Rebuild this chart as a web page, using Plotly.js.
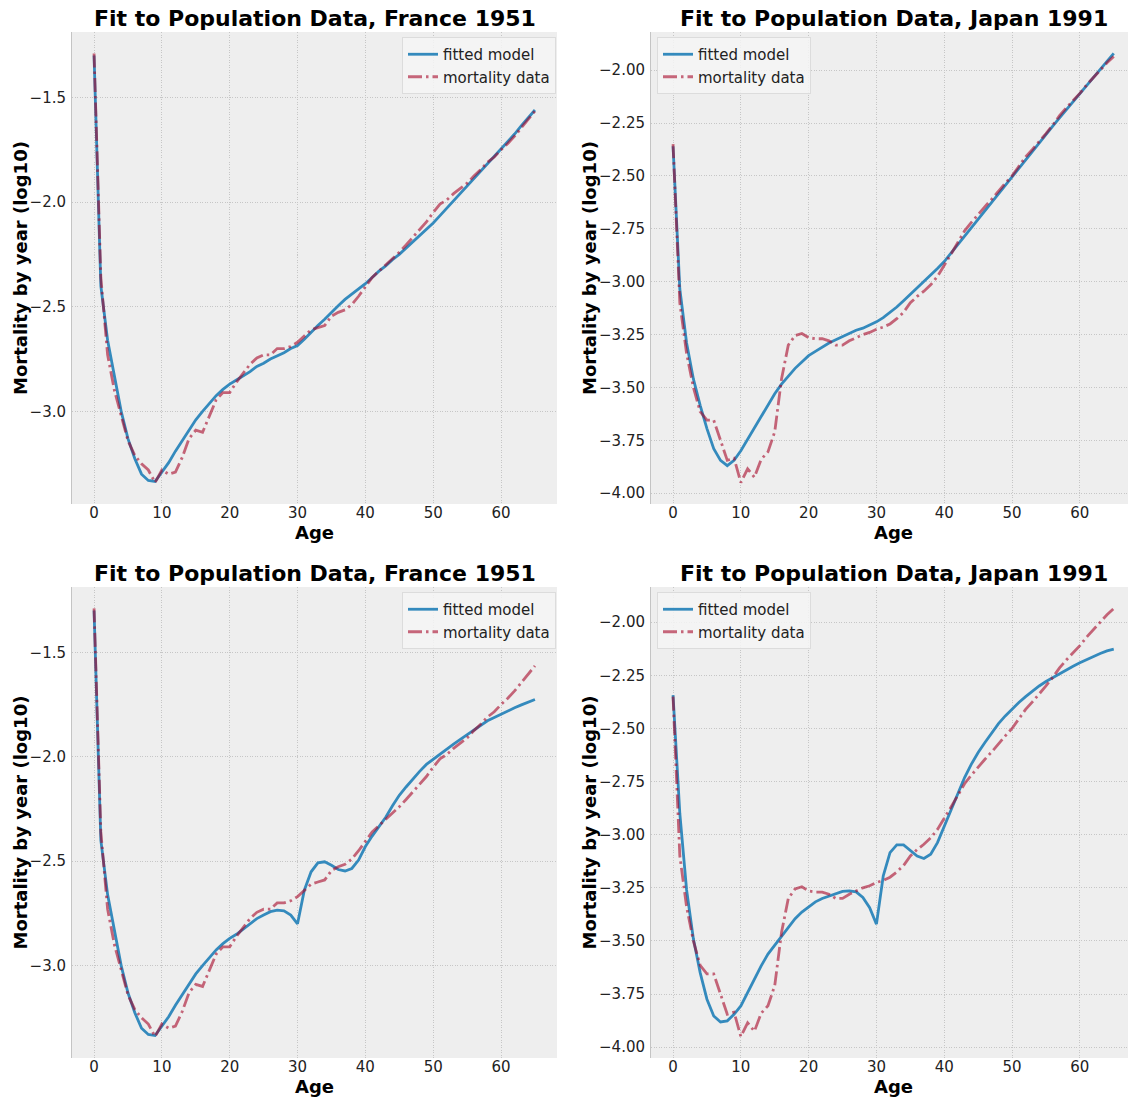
<!DOCTYPE html>
<html>
<head>
<meta charset="utf-8">
<script src="https://cdn.plot.ly/plotly-3.0.1.min.js"></script>
<style>html,body{margin:0;padding:0;background:#fff;}#chart{width:1128px;height:1101px;}</style>
</head>
<body>
<div id="chart"></div>
<script>
// ---- data ----
const ages = Array.from({length: 66}, (_, i) => i);

const titles = ["Fit to Population Data, France 1951", "Fit to Population Data, Japan 1991",
                "Fit to Population Data, France 1951", "Fit to Population Data, Japan 1991"];
const seriesNames = ["fitted model", "mortality data"];
const xLabel = "Age";
const yLabel = "Mortality by year (log10)";

const franceData = [-1.29,-2.36,-2.73,-2.90,-3.02,-3.14,-3.21,-3.25,-3.28,-3.34,
  -3.28,-3.30,-3.29,-3.22,-3.13,-3.09,-3.10,-3.02,-2.945,-2.91,
  -2.91,-2.86,-2.815,-2.775,-2.745,-2.73,-2.73,-2.70,-2.70,-2.69,
  -2.67,-2.64,-2.61,-2.60,-2.59,-2.545,-2.527,-2.515,-2.49,-2.45,
  -2.405,-2.36,-2.33,-2.30,-2.27,-2.24,-2.205,-2.17,-2.135,-2.095,
  -2.05,-2.01,-1.99,-1.96,-1.935,-1.91,-1.875,-1.845,-1.81,-1.785,
  -1.75,-1.72,-1.685,-1.645,-1.605,-1.565];

const franceFitA = [-1.30,-2.40,-2.66,-2.83,-3.00,-3.13,-3.225,-3.30,-3.33,-3.335,
  -3.29,-3.245,-3.19,-3.14,-3.09,-3.04,-3.00,-2.96,-2.925,-2.895,
  -2.87,-2.85,-2.83,-2.81,-2.785,-2.77,-2.75,-2.735,-2.72,-2.70,
  -2.685,-2.655,-2.62,-2.59,-2.56,-2.525,-2.495,-2.465,-2.44,-2.415,
  -2.39,-2.36,-2.33,-2.305,-2.275,-2.25,-2.22,-2.19,-2.16,-2.13,
  -2.10,-2.065,-2.03,-1.995,-1.96,-1.925,-1.89,-1.855,-1.82,-1.785,
  -1.75,-1.71,-1.675,-1.635,-1.60,-1.56];

const franceFitB = [-1.30,-2.40,-2.66,-2.83,-3.00,-3.13,-3.225,-3.30,-3.33,-3.335,
  -3.29,-3.245,-3.19,-3.14,-3.09,-3.04,-3.00,-2.96,-2.925,-2.895,
  -2.87,-2.85,-2.825,-2.80,-2.775,-2.758,-2.742,-2.735,-2.738,-2.758,
  -2.80,-2.639,-2.551,-2.508,-2.503,-2.52,-2.54,-2.547,-2.535,-2.495,
  -2.43,-2.38,-2.335,-2.29,-2.235,-2.185,-2.145,-2.105,-2.07,-2.037,
  -2.012,-1.99,-1.965,-1.94,-1.917,-1.894,-1.87,-1.847,-1.828,-1.812,
  -1.796,-1.78,-1.766,-1.752,-1.739,-1.726];

const japanData = [-2.35,-3.10,-3.34,-3.50,-3.615,-3.655,-3.655,-3.75,-3.845,-3.835,
  -3.95,-3.885,-3.925,-3.84,-3.805,-3.71,-3.46,-3.30,-3.255,-3.245,
  -3.265,-3.27,-3.27,-3.28,-3.30,-3.30,-3.28,-3.265,-3.25,-3.24,
  -3.225,-3.215,-3.20,-3.175,-3.145,-3.10,-3.07,-3.045,-3.015,-2.975,
  -2.925,-2.87,-2.815,-2.76,-2.72,-2.68,-2.645,-2.61,-2.57,-2.535,
  -2.50,-2.456,-2.41,-2.375,-2.34,-2.30,-2.26,-2.215,-2.178,-2.145,
  -2.11,-2.07,-2.035,-1.995,-1.965,-1.935];

const japanFitA = [-2.36,-3.035,-3.29,-3.46,-3.585,-3.695,-3.79,-3.845,-3.87,-3.845,
  -3.80,-3.745,-3.69,-3.635,-3.58,-3.53,-3.485,-3.445,-3.41,-3.38,
  -3.35,-3.33,-3.31,-3.29,-3.275,-3.26,-3.245,-3.23,-3.22,-3.205,
  -3.19,-3.17,-3.145,-3.12,-3.09,-3.06,-3.03,-3.0,-2.97,-2.938,
  -2.905,-2.865,-2.823,-2.782,-2.741,-2.70,-2.66,-2.62,-2.58,-2.542,
  -2.503,-2.463,-2.423,-2.383,-2.343,-2.303,-2.265,-2.226,-2.187,-2.148,
  -2.11,-2.072,-2.034,-1.996,-1.958,-1.921];

const japanFitB = [-2.343,-2.90,-3.26,-3.49,-3.649,-3.774,-3.853,-3.881,-3.876,-3.845,
  -3.806,-3.743,-3.68,-3.617,-3.562,-3.52,-3.475,-3.432,-3.395,-3.364,
  -3.338,-3.316,-3.30,-3.288,-3.277,-3.267,-3.264,-3.269,-3.295,-3.343,
  -3.421,-3.194,-3.084,-3.048,-3.048,-3.072,-3.10,-3.112,-3.092,-3.037,
  -2.959,-2.88,-2.80,-2.731,-2.668,-2.613,-2.566,-2.519,-2.477,-2.441,
  -2.409,-2.378,-2.35,-2.323,-2.30,-2.279,-2.26,-2.241,-2.224,-2.207,
  -2.191,-2.176,-2.161,-2.147,-2.135,-2.127];

// ---- layout helpers ----
const W = 1128, H = 1101;
const px = p => p / W;
const py = p => 1 - p / H;

const panels = [
  {fit: franceFitA, data: franceData, x0: 72, x1: 557, y0: 32, y1: 504, xmax: 68.25, yfmt: '.1f', dy: 0.5, legendRight: true, yt: 52},
  {fit: japanFitA,  data: japanData,  x0: 651, x1: 1128, y0: 32, y1: 504, xmax: 67.1, yfmt: '.2f', dy: 0.25, legendRight: false, yt: 62},
  {fit: franceFitB, data: franceData, x0: 72, x1: 557, y0: 587, y1: 1058, xmax: 68.25, yfmt: '.1f', dy: 0.5, legendRight: true, yt: 52},
  {fit: japanFitB,  data: japanData,  x0: 651, x1: 1128, y0: 587, y1: 1058, xmax: 67.1, yfmt: '.2f', dy: 0.25, legendRight: false, yt: 62}
];

const FONT = "DejaVu Sans, Arial, sans-serif";
const traces = [];
const layout = {
  width: W, height: H,
  margin: {l: 0, r: 0, t: 0, b: 0},
  paper_bgcolor: '#ffffff',
  plot_bgcolor: '#eeeeee',
  font: {family: FONT, size: 15, color: '#222'},
  annotations: [],
  showlegend: true
};

panels.forEach((p, i) => {
  const k = i === 0 ? '' : String(i + 1);
  const xa = 'x' + k, ya = 'y' + k;
  const lg = 'legend' + k;
  traces.push({
    x: ages, y: p.fit, xaxis: xa, yaxis: ya, type: 'scatter', mode: 'lines',
    name: seriesNames[0], legend: lg,
    line: {color: '#348ABD', width: 2.8}
  });
  traces.push({
    x: ages, y: p.data, xaxis: xa, yaxis: ya, type: 'scatter', mode: 'lines',
    name: seriesNames[1], legend: lg,
    line: {color: 'rgba(166,6,40,0.6)', width: 2.8, dash: '14px,4px,2.5px,4px'}
  });
  const all = p.fit.concat(p.data);
  const mn = Math.min(...all), mx = Math.max(...all);
  const pad = (mx - mn) * 0.05;
  const axCommon = {
    showgrid: true, gridcolor: '#c6c6c6', griddash: '1px,1.5px', gridwidth: 1,
    zeroline: false, showline: false,
    ticks: '',
    tickfont: {family: FONT, size: 15, color: '#222'}
  };
  layout['xaxis' + k] = Object.assign({}, axCommon, {
    domain: [px(p.x0), px(p.x1)], anchor: ya,
    range: [-3.25, p.xmax], dtick: 10, tick0: 0, ticklabelstandoff: -2
  });
  layout['yaxis' + k] = Object.assign({}, axCommon, {
    domain: [py(p.y1), py(p.y0)], anchor: xa,
    range: [mn - pad, mx + pad], dtick: p.dy, tick0: 0, tickformat: p.yfmt,
    showline: true, linecolor: '#c4c4c4', linewidth: 1, ticklabelstandoff: 2
  });
  layout[lg] = {
    x: p.legendRight ? px(556) : px(657), xanchor: p.legendRight ? 'right' : 'left',
    y: py(p.y0 + 5), yanchor: 'top',
    bgcolor: 'rgba(244,244,244,0.85)', bordercolor: '#dcdcdc', borderwidth: 1,
    font: {family: FONT, size: 15, color: '#222'},
    tracegroupgap: 0
  };
  const cx = (p.x0 + (p.legendRight ? p.x1 : p.x0 + 485)) / 2;
  layout.annotations.push({
    text: '<b>' + titles[i] + '</b>', xref: 'paper', yref: 'paper',
    x: px(cx), y: py(p.y0 - 14), xanchor: 'center', yanchor: 'middle',
    showarrow: false, font: {family: FONT, size: 22, color: '#000'}
  });
  layout.annotations.push({
    text: '<b>' + xLabel + '</b>', xref: 'paper', yref: 'paper',
    x: px(cx), y: py(p.y1 + 28), xanchor: 'center', yanchor: 'middle',
    showarrow: false, font: {family: FONT, size: 18, color: '#000'}
  });
  layout.annotations.push({
    text: '<b>' + yLabel + '</b>', xref: 'paper', yref: 'paper',
    x: px(p.x0 - p.yt), y: py((p.y0 + p.y1) / 2), xanchor: 'center', yanchor: 'middle',
    textangle: -90, showarrow: false, font: {family: FONT, size: 18, color: '#000'}
  });
});

Plotly.newPlot('chart', traces, layout, {staticPlot: true, displayModeBar: false});
</script>
</body>
</html>
